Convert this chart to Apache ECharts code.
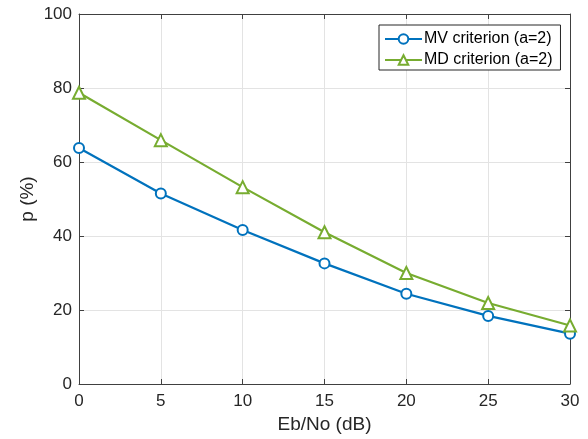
<!DOCTYPE html>
<html>
<head>
<meta charset="utf-8">
<script src="https://cdn.jsdelivr.net/npm/echarts@6/dist/echarts.min.js"></script>
<style>
  html, body { margin: 0; padding: 0; background: #fff; }
  #chart { width: 588px; height: 439px; }
</style>
</head>
<body>
<div id="chart"></div>
<script>
// Eb/No values (dB)
const ebno = [0, 5, 10, 15, 20, 25, 30];
// p (%) for each criterion
const mvValues = [63.8, 51.5, 41.6, 32.6, 24.4, 18.4, 13.6];
const mdValues = [78.7, 65.9, 53.2, 41.0, 30.0, 21.9, 15.8];
const seriesNames = ['MV criterion (a=2)', 'MD criterion (a=2)'];

const FONT = '"Liberation Sans", Arial, Helvetica, sans-serif';
const AXIS_COLOR = '#404040';
const TEXT_COLOR = '#262626';

function pairs(xs, ys) { return xs.map((x, i) => [x, ys[i]]); }

const frameAxis = {
  axisLine: { show: true, onZero: false, lineStyle: { color: AXIS_COLOR, width: 1 } },
  axisTick: { show: true, inside: true, length: 5, lineStyle: { color: AXIS_COLOR } },
  axisLabel: { show: false },
  splitLine: { show: false }
};

const chart = echarts.init(document.getElementById('chart'), null, { renderer: 'canvas' });
chart.setOption({
  backgroundColor: '#fff',
  animation: false,
  grid: { left: 79, right: 18, top: 14, bottom: 53, containLabel: false },
  legend: {
    left: 379, top: 25,
    orient: 'vertical',
    data: seriesNames,
    itemWidth: 37, itemHeight: 12, itemGap: 3,
    padding: [5, 8, 1, 5],
    backgroundColor: '#fff',
    borderColor: '#262626', borderWidth: 1, borderRadius: 0,
    textStyle: { fontFamily: FONT, fontSize: 16, color: '#000', padding: [0, 0, 0, -3], lineHeight: 18 }
  },
  xAxis: [{
    type: 'value', min: 0, max: 30, interval: 5,
    name: 'Eb/No (dB)', nameLocation: 'middle', nameGap: 31, nameMoveOverlap: false,
    nameTextStyle: { fontFamily: FONT, fontSize: 19, color: TEXT_COLOR },
    axisLine: { show: true, onZero: false, lineStyle: { color: AXIS_COLOR, width: 1 } },
    axisTick: { show: true, inside: true, length: 5, lineStyle: { color: AXIS_COLOR } },
    axisLabel: { fontFamily: FONT, fontSize: 17, color: TEXT_COLOR, margin: 9 },
    splitLine: { show: true, lineStyle: { color: '#e3e3e3', width: 1 } }
  }, Object.assign({
    type: 'value', min: 0, max: 30, interval: 5, position: 'top'
  }, frameAxis)],
  yAxis: [{
    type: 'value', min: 0, max: 100, interval: 20,
    name: 'p (%)', nameLocation: 'middle', nameGap: 42, nameMoveOverlap: false,
    nameTextStyle: { fontFamily: FONT, fontSize: 19, color: TEXT_COLOR },
    axisLine: { show: true, onZero: false, lineStyle: { color: AXIS_COLOR, width: 1 } },
    axisTick: { show: true, inside: true, length: 5, lineStyle: { color: AXIS_COLOR } },
    axisLabel: { fontFamily: FONT, fontSize: 17, color: TEXT_COLOR, margin: 7 },
    splitLine: { show: true, lineStyle: { color: '#e3e3e3', width: 1 } }
  }, Object.assign({
    type: 'value', min: 0, max: 100, interval: 20, position: 'right'
  }, frameAxis)],
  series: [{
    name: seriesNames[0],
    type: 'line',
    data: pairs(ebno, mvValues),
    symbol: 'emptyCircle', symbolSize: 10,
    lineStyle: { color: '#0072BD', width: 2.2 },
    itemStyle: { color: '#0072BD', borderColor: '#0072BD', borderWidth: 2.2 },
    z: 3
  }, {
    name: seriesNames[1],
    type: 'line',
    data: pairs(ebno, mdValues),
    symbol: 'emptyTriangle', symbolSize: 12,
    lineStyle: { color: '#77AC30', width: 2.2 },
    itemStyle: { color: '#77AC30', borderColor: '#77AC30', borderWidth: 2.2 },
    z: 3
  }]
});
</script>
</body>
</html>
